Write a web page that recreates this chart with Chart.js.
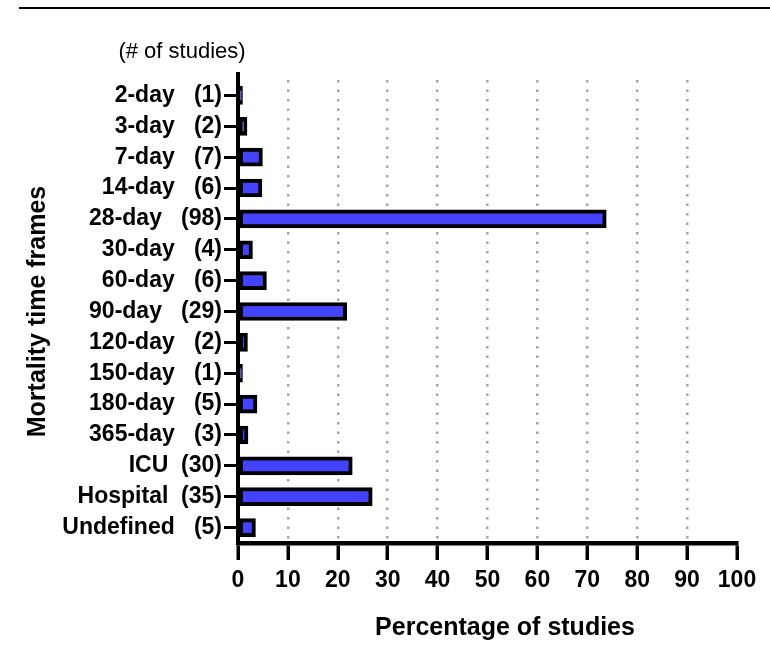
<!DOCTYPE html>
<html>
<head>
<meta charset="utf-8">
<script src="https://cdn.jsdelivr.net/npm/chart.js@4.4.0/dist/chart.umd.min.js"></script>
<style>
    html, body { margin: 0; padding: 0; background: #fff; }
    #mortalityChart { display: block; }
</style>
</head>
<body>
<canvas id="mortalityChart" width="770" height="646"></canvas>
<script>
// Data
const timeFrames = ["2-day", "3-day", "7-day", "14-day", "28-day", "30-day", "60-day",
    "90-day", "120-day", "150-day", "180-day", "365-day", "ICU", "Hospital", "Undefined"];
const studyCounts = [1, 2, 7, 6, 98, 4, 6, 29, 2, 1, 5, 3, 30, 35, 5];
const percentStudies = [0.9, 1.8, 4.9, 4.8, 73.8, 2.9, 5.7, 21.8, 1.9, 0.9, 3.8, 2.0, 22.9, 26.9, 3.5];
const xTicks = [0, 10, 20, 30, 40, 50, 60, 70, 80, 90, 100];

const FONT = "'Liberation Sans', Arial, Helvetica, sans-serif";

// "2-day   (1)" style labels, ICU / Hospital have one less space in the source
const yLabels = timeFrames.map((name, i) => {
    const gap = (name === "ICU" || name === "Hospital") ? "  " : "   ";
    return name + gap + "(" + studyCounts[i] + ")";
});

const decorations = {
    id: "decorations",
    afterDraw(chart) {
        const ctx = chart.ctx;
        const area = chart.chartArea;
        ctx.save();
        // rule across the top of the figure
        ctx.strokeStyle = "#000";
        ctx.lineWidth = 2;
        ctx.beginPath();
        ctx.moveTo(19, 8);
        ctx.lineTo(770, 8);
        ctx.stroke();
        // y axis runs a little above the first bar
        ctx.lineWidth = 4;
        ctx.beginPath();
        ctx.moveTo(area.left, area.top - 8);
        ctx.lineTo(area.left, area.top + 1);
        ctx.stroke();

        ctx.fillStyle = "#000";
        ctx.textAlign = "center";
        ctx.textBaseline = "middle";
        ctx.font = "22px " + FONT;
        ctx.fillText("(# of studies)", 182, 52);

        ctx.font = "bold 25px " + FONT;
        ctx.fillText("Percentage of studies", 505, 628);

        ctx.translate(38, (area.top + area.bottom) / 2);
        ctx.rotate(-Math.PI / 2);
        ctx.fillText("Mortality time frames", 0, 0);
        ctx.restore();
    },
};

const data = {
    labels: yLabels,
    datasets: [
        {
            label: "Percentage of studies",
            data: percentStudies,
            backgroundColor: "#4343fd",
            borderColor: "#000",
            borderWidth: 4,
            borderSkipped: false,
            barThickness: 18,
        },
    ],
};

const config = {
    type: "bar",
    data: data,
    options: {
        indexAxis: "y",
        responsive: false,
        devicePixelRatio: 1,
        animation: false,
        layout: {
            padding: { top: 80, right: 33, left: 0, bottom: 0 },
        },
        plugins: {
            legend: { display: false },
            tooltip: { enabled: false },
        },
        scales: {
            x: {
                type: "linear",
                min: 0,
                max: 100,
                afterBuildTicks(scale) {
                    scale.ticks = xTicks.map((v) => ({ value: v }));
                },
                afterFit(scale) {
                    scale.height = 103;
                },
                ticks: {
                    color: "#000",
                    padding: 7,
                    maxRotation: 0,
                    font: { family: FONT, size: 23, weight: "bold" },
                },
                grid: {
                    color: (c) => (c.tick && (c.tick.value === 0 || c.tick.value === 100))
                        ? "rgba(0,0,0,0)" : "#a6a6a6",
                    lineWidth: 2.5,
                    tickColor: "#000",
                    tickWidth: 3.5,
                    tickLength: 17,
                },
                border: { display: true, color: "#000", width: 4.5, dash: [2.5, 7] },
            },
            y: {
                afterFit(scale) {
                    scale.width = 238;
                },
                ticks: {
                    color: "#000",
                    padding: 2,
                    font: { family: FONT, size: 23, weight: "bold" },
                },
                grid: {
                    offset: false,
                    drawOnChartArea: false,
                    tickColor: "#000",
                    tickWidth: 3,
                    tickLength: 14,
                },
                border: { display: true, color: "#000", width: 4 },
            },
        },
    },
    plugins: [decorations],
};

const ctx = document.getElementById("mortalityChart").getContext("2d");
new Chart(ctx, config);
</script>
</body>
</html>
